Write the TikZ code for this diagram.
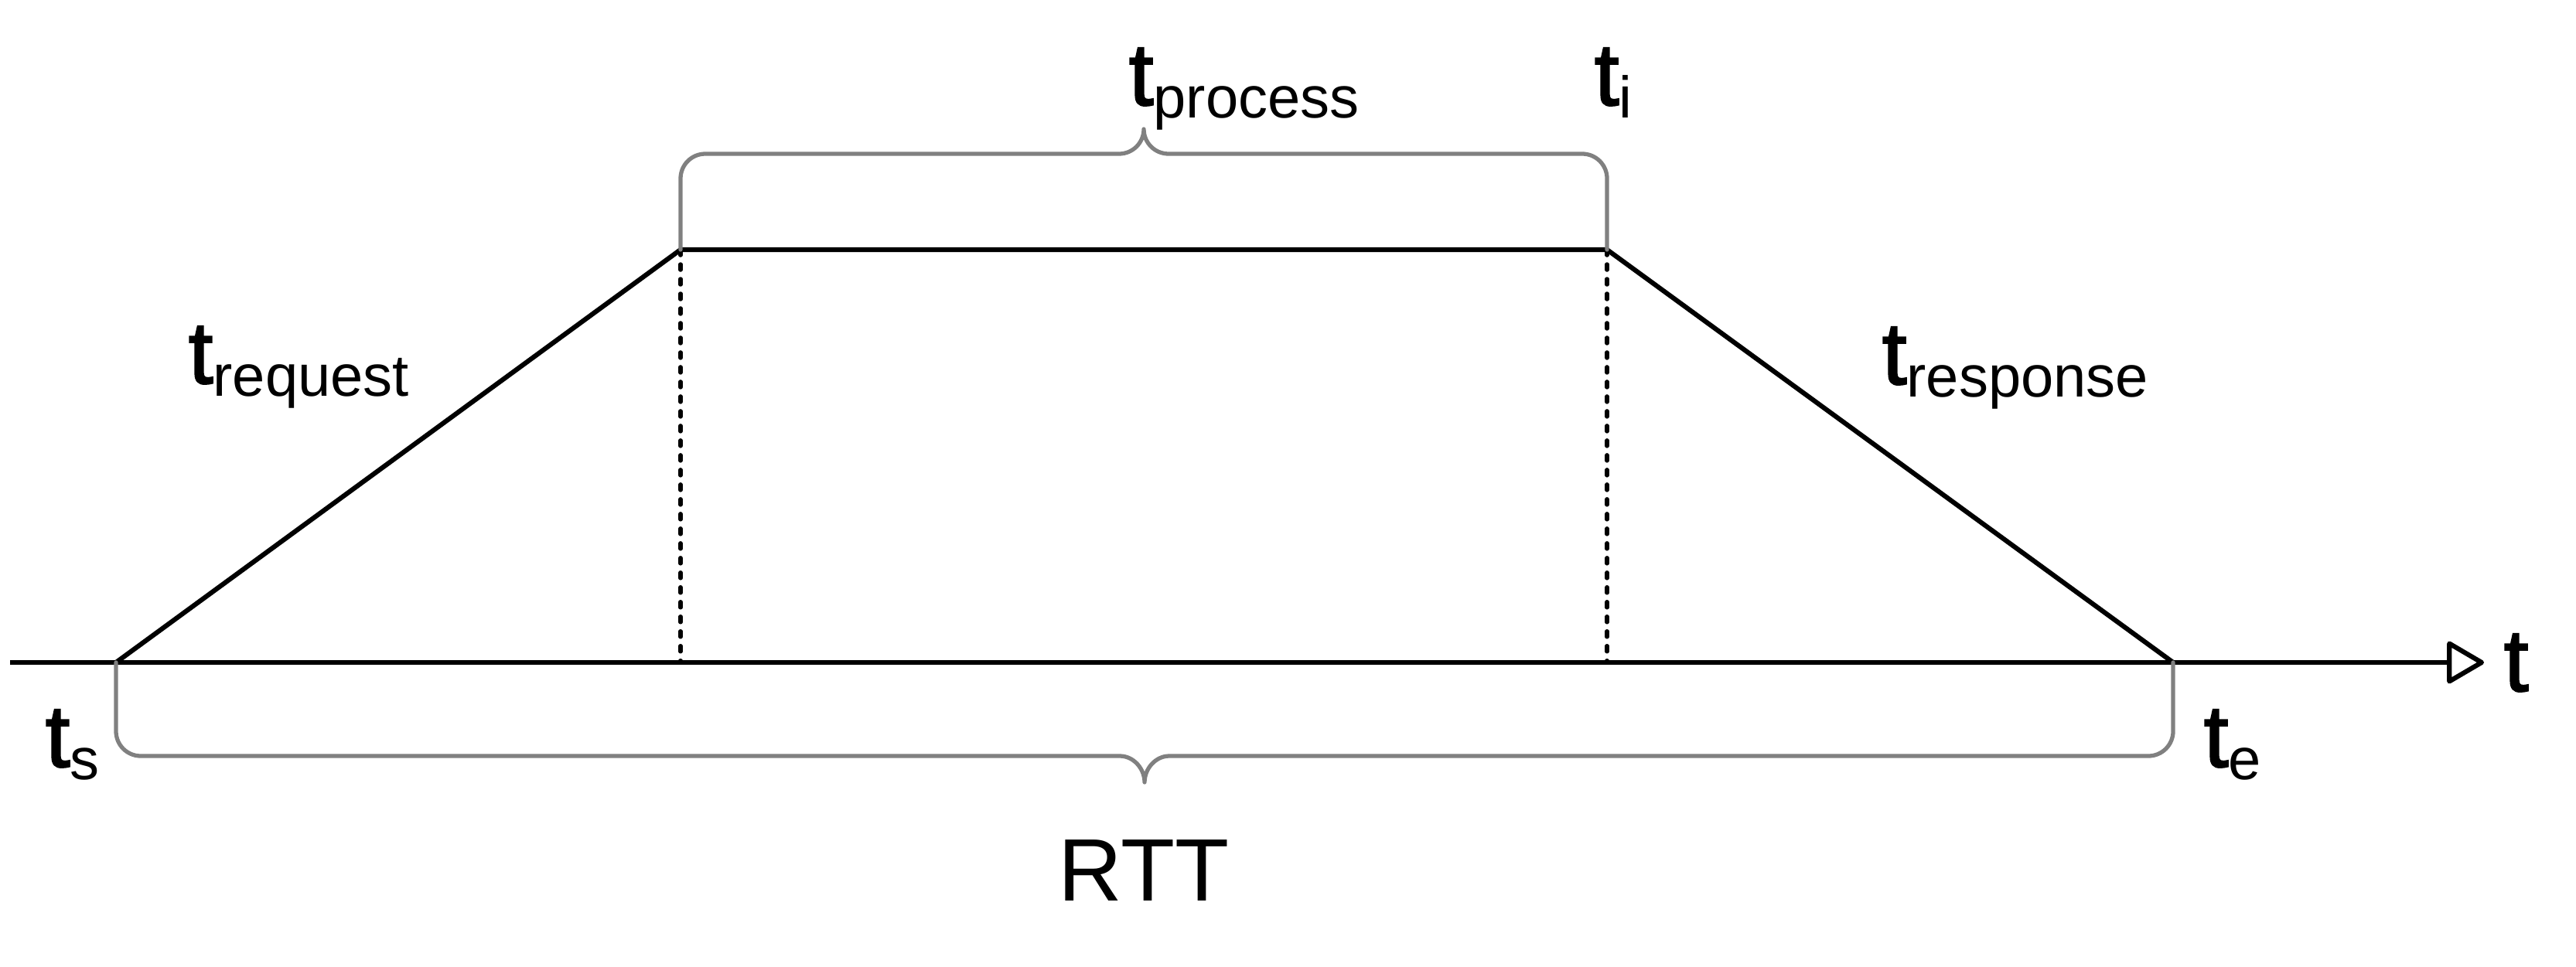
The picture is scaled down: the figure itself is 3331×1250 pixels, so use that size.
\documentclass[tikz,border=0pt]{standalone}
\usepackage{fontspec}
\setmainfont{Liberation Sans}
\newfontfamily\tfont[FakeBold=1.8]{Liberation Sans}
\usetikzlibrary{arrows.meta}
\definecolor{bracegray}{RGB}{128,128,128}
\newcommand\tsb[1]{{\tfont t}\raisebox{-4.55pt}{\fontsize{21.6}{24}\selectfont #1}}
\tikzset{
  blk/.style={line width=1.75pt, draw=black, line join=round},
  dsh/.style={line width=1.55pt, draw=black, line cap=round, dash pattern=on 2pt off 3.4pt},
  brc/.style={line width=1.5pt, draw=bracegray, line cap=round, line join=round},
  lbl/.style={inner sep=0pt, font=\fontsize{32.6}{38}\selectfont, anchor=base west},
}
\begin{document}
\begin{tikzpicture}[x=0.01cm, y=0.01cm]
\useasboundingbox (0,0) rectangle (3331,1250);
% key points
\coordinate (ax0) at (13,393);
\coordinate (ax1) at (3212,393);
\coordinate (ts) at (150,393);
\coordinate (pl) at (880,927);
\coordinate (pr) at (2078,927);
\coordinate (te) at (2810,393);
% axis
\draw[blk, -{Triangle[open, round, length=14.5pt, width=16.5pt]}] (ax0) -- (ax1);
% trapezoid
\draw[blk] (ts) -- (pl) -- (pr) -- (te);
% dashed verticals
\draw[dsh] (pl) -- (pl |- ax0);
\draw[dsh] (pr) -- (pr |- ax0);
% top brace
\draw[brc] (pl) -- (880,1019) .. controls (880,1036.7) and (894.3,1051) .. (912,1051)
  -- (1447,1051) .. controls (1464.7,1051) and (1479,1065.3) .. (1479,1083)
  .. controls (1479,1065.3) and (1493.3,1051) .. (1511,1051)
  -- (2046,1051) .. controls (2063.7,1051) and (2078,1036.7) .. (2078,1019) -- (pr);
% bottom brace
\draw[brc] (ts) -- (150,304) .. controls (150,286.3) and (164.3,272) .. (182,272)
  -- (1448,272) .. controls (1465.7,272) and (1480,255.7) .. (1480,238)
  .. controls (1480,255.7) and (1494.3,272) .. (1512,272)
  -- (2778,272) .. controls (2795.7,272) and (2810,286.3) .. (2810,304) -- (te);
% labels
\node[lbl] (treq) at (243,754) {\tsb{request}};
\node[lbl] (tresp) at (2433,753) {\tsb{response}};
\node[lbl] (tproc) at (1459,1114) {\tsb{process}};
\node[lbl] (ti) at (2061,1114) {\tsb{i}};
\node[lbl] (tsl) at (58,258) {\tsb{s}};
\node[lbl] (tel) at (2849,258) {\tsb{e}};
\node[lbl] (tax) at (3237,356) {\tfont t};
\node[lbl, anchor=base] (rtt) at (1479,85) {RTT};
\end{tikzpicture}
\end{document}
